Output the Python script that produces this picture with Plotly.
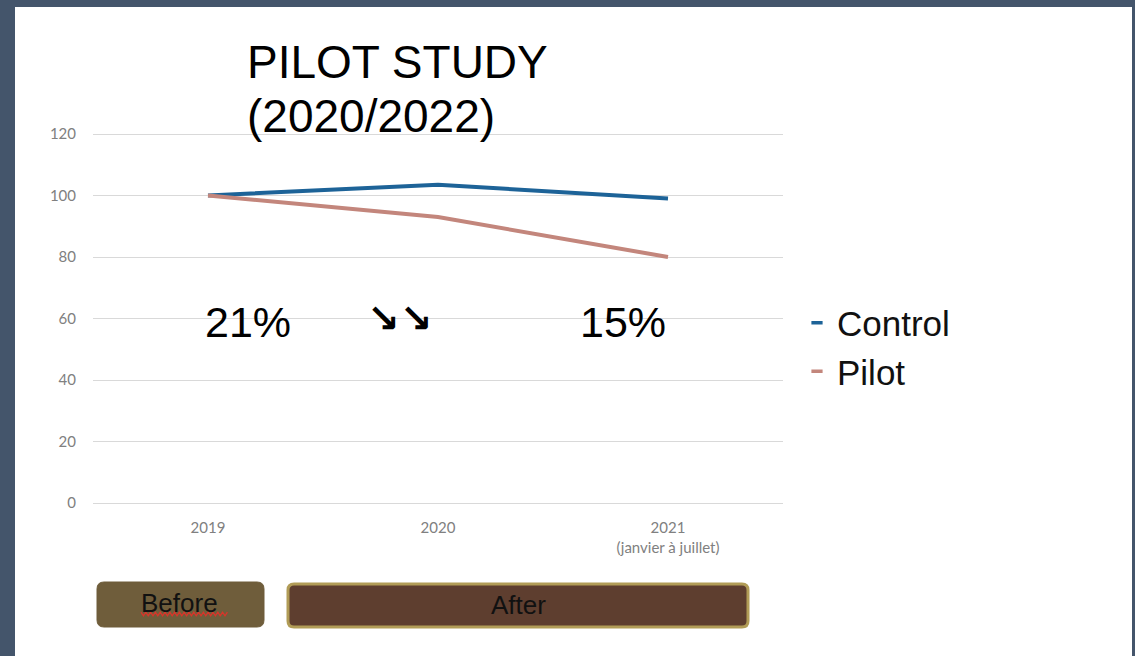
import plotly.graph_objects as go

# --- data -------------------------------------------------------------
years = ["2019", "2020", "2021<br>(janvier à juillet)"]
control = [100, 103.5, 99]
pilot = [100, 93, 80]
y_ticks = [0, 20, 40, 60, 80, 100, 120]

title_lines = ["PILOT STUDY", "(2020/2022)"]
pct_before = "21%"
pct_after = "15%"
phase_labels = ["Before", "After"]

# --- geometry helpers (figure is drawn with zero margins) -------------
W, H = 1135, 656


def fx(x):
    return x / W


def fy(y):
    return 1 - y / H


def rounded_rect(x0, y0, x1, y1, r):
    """SVG path of a rounded rectangle, pixel box -> paper coordinates."""
    rx, ry = r / W, r / H
    a, b, c, d = fx(x0), fy(y1), fx(x1), fy(y0)  # left, bottom, right, top
    return (
        f"M {a + rx},{b} L {c - rx},{b} Q {c},{b} {c},{b + ry} "
        f"L {c},{d - ry} Q {c},{d} {c - rx},{d} "
        f"L {a + rx},{d} Q {a},{d} {a},{d - ry} "
        f"L {a},{b + ry} Q {a},{b} {a + rx},{b} Z"
    )


def squiggle(x0, x1, y, amp=1.8, step=2.4):
    pts = []
    x, up = x0, True
    while x <= x1:
        pts.append((fx(x), fy(y - amp if up else y + amp)))
        x += step
        up = not up
    return "M " + " L ".join(f"{a},{b}" for a, b in pts)


BLUE = "#1d6398"
ROSE = "#c3867c"
TXT = "Liberation Sans, Arial, sans-serif"
AXIS_FONT = dict(family="Lato, DejaVu Sans, sans-serif", size=15, color="#808080")

fig = go.Figure()

fig.add_trace(go.Scatter(x=years, y=control, mode="lines", name="Control",
                         line=dict(color=BLUE, width=4), showlegend=False))
fig.add_trace(go.Scatter(x=years, y=pilot, mode="lines", name="Pilot",
                         line=dict(color=ROSE, width=4), showlegend=False))

# short dash keys for the legend
for name, col in (("Control", BLUE), ("Pilot", ROSE)):
    fig.add_trace(go.Scatter(
        x=[None], y=[None], mode="markers", name=name,
        marker=dict(symbol="line-ew", size=8, line=dict(color=col, width=3.5)),
    ))

# y axis: 0..120 maps to pixel rows 503..134
unit = (503 - 134) / 120
y_lo, y_hi = -1, 121
dom_y = [fy(503 + unit * (0 - y_lo)), fy(503 - unit * (y_hi - 0))]

fig.update_layout(
    width=W, height=H, autosize=False,
    margin=dict(l=0, r=0, t=0, b=0, pad=0, autoexpand=False),
    paper_bgcolor="#44556b",
    plot_bgcolor="rgba(0,0,0,0)",
    xaxis=dict(domain=[fx(93), fx(783)], type="category", range=[-0.5, 2.5],
               showgrid=False, zeroline=False, showline=False, ticks="",
               tickfont=AXIS_FONT, ticklabelstandoff=11, automargin=False),
    yaxis=dict(domain=dom_y, range=[y_lo, y_hi], tickvals=y_ticks,
               showgrid=True, gridcolor="#d9d9d9", gridwidth=1.2,
               zeroline=False, showline=False, ticks="",
               tickfont=AXIS_FONT, ticklabelstandoff=16, automargin=False),
    legend=dict(x=fx(797), y=fy(347), xanchor="left", yanchor="middle",
                font=dict(family=TXT, size=35, color="#111111"),
                bgcolor="rgba(0,0,0,0)", tracegroupgap=0),
    showlegend=True,
)

shapes = [
    # white slide
    dict(type="rect", xref="paper", yref="paper", x0=fx(15), x1=fx(1132),
         y0=-0.05, y1=fy(7), fillcolor="white", line=dict(width=0), layer="below"),
    # phase boxes
    dict(type="path", xref="paper", yref="paper",
         path=rounded_rect(97, 582, 264, 627, 7),
         fillcolor="#6f5d3b", line=dict(color="#6f5d3b", width=1)),
    dict(type="path", xref="paper", yref="paper",
         path=rounded_rect(288, 584, 748, 627, 6),
         fillcolor="#5e3e2f", line=dict(color="#b19c57", width=3)),
    # wavy underline under "Before"
    dict(type="path", xref="paper", yref="paper",
         path=squiggle(141, 228, 614), line=dict(color="#d8352a", width=1.3)),
]
fig.update_layout(shapes=shapes)

ann = [
    dict(text=title_lines[0], x=fx(245), y=fy(62), xanchor="left", yanchor="middle",
         font=dict(family=TXT, size=46, color="#000000")),
    dict(text=title_lines[1], x=fx(245), y=fy(116), xanchor="left", yanchor="middle",
         font=dict(family=TXT, size=46, color="#000000")),
    dict(text=pct_before, x=fx(248), y=fy(322), xanchor="center", yanchor="middle",
         font=dict(family=TXT, size=43, color="#000000")),
    dict(text="<b>↘↘</b>", x=fx(399), y=fy(318), xanchor="center", yanchor="middle",
         font=dict(family="DejaVu Sans", size=39, color="#000000")),
    dict(text=pct_after, x=fx(623), y=fy(322), xanchor="center", yanchor="middle",
         font=dict(family=TXT, size=43, color="#000000")),
    dict(text=phase_labels[0], x=fx(179), y=fy(603), xanchor="center", yanchor="middle",
         font=dict(family=TXT, size=26, color="#111111")),
    dict(text=phase_labels[1], x=fx(518), y=fy(605), xanchor="center", yanchor="middle",
         font=dict(family=TXT, size=26, color="#111111")),
]
for a in ann:
    a.update(xref="paper", yref="paper", showarrow=False)
fig.update_layout(annotations=ann)

fig.write_html("out.html")
